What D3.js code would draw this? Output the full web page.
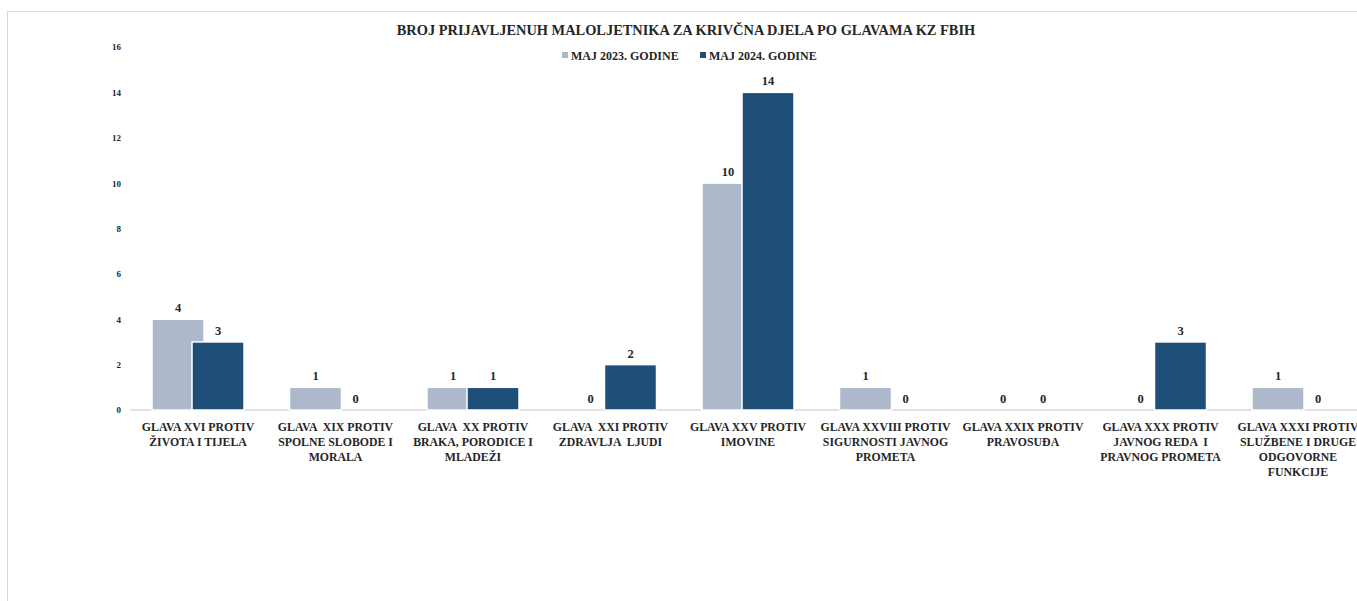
<!DOCTYPE html>
<html lang="bs">
<head>
    <meta charset="UTF-8">
    <title>Broj prijavljenih maloljetnika</title>
    <style>
        body { margin: 0; background: #fff; }
        text { font-family: "Liberation Serif", "DejaVu Serif", serif; font-weight: bold; fill: #262626; white-space: pre; }
    </style>
</head>
<body>
<div id="chart"></div>
<script src="https://cdn.jsdelivr.net/npm/d3@7/dist/d3.min.js"></script>
<script>
    const categories = [
        ["GLAVA XVI PROTIV", "ŽIVOTA I TIJELA"],
        ["GLAVA  XIX PROTIV", "SPOLNE SLOBODE I", "MORALA"],
        ["GLAVA  XX PROTIV", "BRAKA, PORODICE I", "MLADEŽI"],
        ["GLAVA  XXI PROTIV", "ZDRAVLJA  LJUDI"],
        ["GLAVA XXV PROTIV", "IMOVINE"],
        ["GLAVA XXVIII PROTIV", "SIGURNOSTI JAVNOG", "PROMETA"],
        ["GLAVA XXIX PROTIV", "PRAVOSUĐA"],
        ["GLAVA XXX PROTIV", "JAVNOG REDA  I", "PRAVNOG PROMETA"],
        ["GLAVA XXXI PROTIV", "SLUŽBENE I DRUGE", "ODGOVORNE", "FUNKCIJE"]
    ];
    const seriesNames = ["MAJ 2023. GODINE", "MAJ 2024. GODINE"];
    const values2023 = [4, 1, 1, 0, 10, 1, 0, 0, 1];
    const values2024 = [3, 0, 1, 2, 14, 0, 0, 3, 0];
    const yTicks = [0, 2, 4, 6, 8, 10, 12, 14, 16];
    const colors = ["#adb9ca", "#1f4e79"];

    const width = 1357, height = 601;

    let svg = d3.select("#chart")
        .append("svg")
        .attr("width", width)
        .attr("height", height);

    // okvir grafikona
    svg.append("rect")
        .attr("x", 7.5).attr("y", 11.5)
        .attr("width", 1400).attr("height", 700)
        .attr("fill", "none")
        .attr("stroke", "#d9d9d9");

    var x = d3.scaleBand()
        .domain(d3.range(categories.length))
        .range([129.25, 1366.75]);

    var y = d3.scaleLinear()
        .domain([0, 16])
        .range([410, 47]);

    // naslov
    svg.append("text")
        .attr("x", 686).attr("y", 35)
        .attr("text-anchor", "middle")
        .style("font-size", "14.4px")
        .text("BROJ PRIJAVLJENUH MALOLJETNIKA ZA KRIVČNA DJELA PO GLAVAMA KZ FBIH");

    // legenda
    let legend = svg.append("g");
    [[562, 571], [700, 709]].forEach((p, i) => {
        legend.append("rect")
            .attr("x", p[0]).attr("y", 52)
            .attr("width", 6).attr("height", 6)
            .attr("fill", colors[i]);
        legend.append("text")
            .attr("x", p[1]).attr("y", 60)
            .style("font-size", "12px")
            .text(seriesNames[i]);
    });

    // Y os
    let yAxis = d3.axisLeft(y).tickValues(yTicks).tickSize(0).tickPadding(0);
    let ga = svg.append("g")
        .attr("transform", "translate(121, 0)")
        .call(yAxis);
    ga.select(".domain").remove();
    ga.selectAll(".tick text")
        .style("font-family", "\"Liberation Serif\", serif")
        .style("font-weight", "bold")
        .style("font-size", "9px")
        .attr("fill", "#262626");

    // bazna linija
    svg.append("line")
        .attr("x1", 130).attr("x2", 1366)
        .attr("y1", y(0)).attr("y2", y(0))
        .attr("stroke", "#d9d9d9")
        .attr("stroke-width", 1.5);

    const bw = 52;
    const center = i => x(i) + x.bandwidth() / 2;
    const series = [
        {vals: values2023, off: -46},
        {vals: values2024, off: -6}
    ];

    series.forEach((s, si) => {
        svg.append("g")
            .selectAll("rect")
            .data(s.vals)
            .join("rect")
            .attr("x", (d, i) => center(i) + s.off)
            .attr("y", d => y(d))
            .attr("width", bw)
            .attr("height", d => y(0) - y(d))
            .attr("fill", colors[si])
            .attr("stroke", "#fff")
            .attr("stroke-width", 1.5);

        svg.append("g")
            .selectAll("text")
            .data(s.vals)
            .join("text")
            .attr("x", (d, i) => center(i) + s.off + bw / 2)
            .attr("y", d => y(d) - 7)
            .attr("text-anchor", "middle")
            .style("font-size", "12.5px")
            .text(d => d);
    });

    // nazivi kategorija
    svg.append("g")
        .selectAll("text")
        .data(categories)
        .join("text")
        .attr("text-anchor", "middle")
        .style("font-size", "11.8px")
        .attr("transform", (d, i) => `translate(${center(i)}, 431)`)
        .each(function (lines) {
            d3.select(this).selectAll("tspan")
                .data(lines)
                .join("tspan")
                .attr("x", 0)
                .attr("dy", (l, j) => j === 0 ? 0 : 15)
                .text(l => l);
        });
</script>
</body>
</html>
